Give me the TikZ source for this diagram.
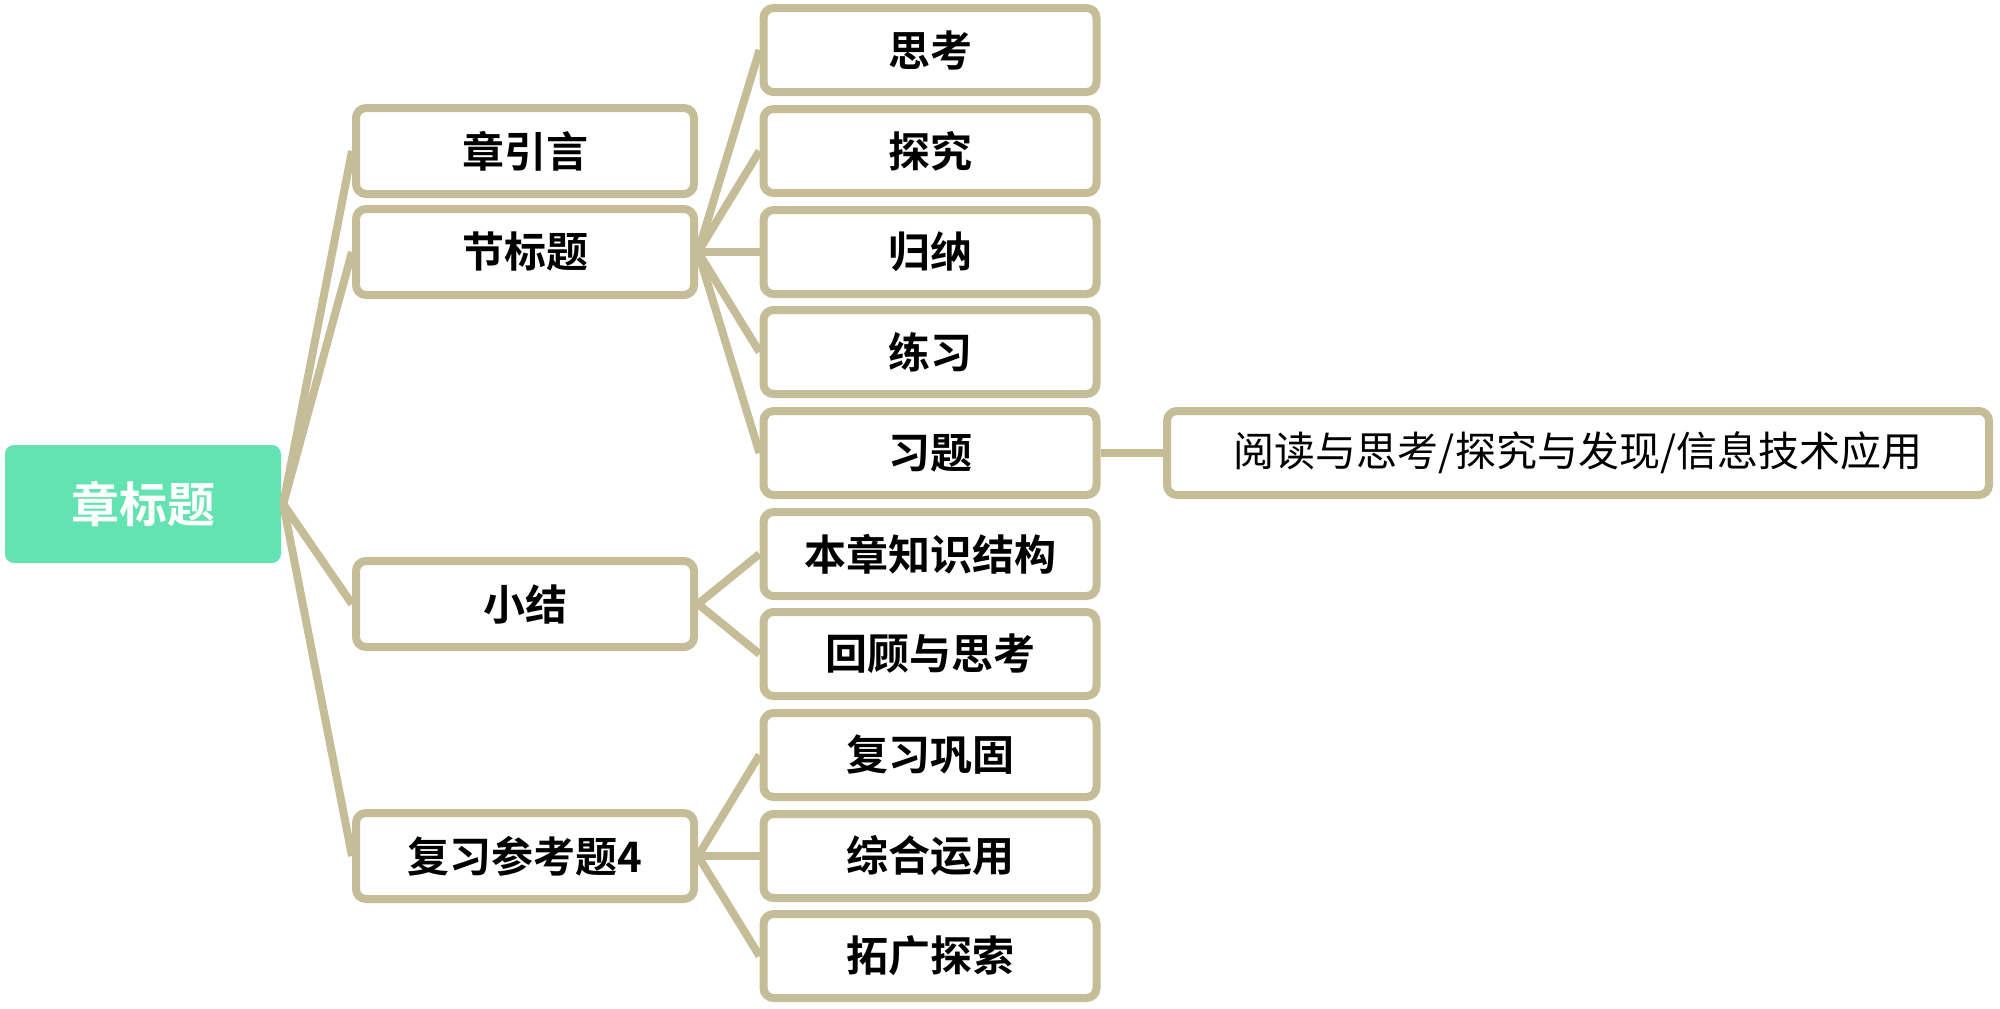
\documentclass[tikz,border=0pt]{standalone}
\usepackage{fontspec}
\newfontfamily\cjk{Noto Sans CJK SC}[BoldFont={* Bold}]
\definecolor{tan}{HTML}{C4BD97}
\definecolor{mint}{HTML}{63E3B1}
\begin{document}
\begin{tikzpicture}[x=1pt,y=-1pt,
  rootbox/.style={fill=mint,rounded corners=9pt,minimum width=276pt,minimum height=118pt,inner sep=0pt,text=white,font=\cjk\bfseries\fontsize{48pt}{54pt}\selectfont},
  lvone/.style={draw=tan,line width=8pt,fill=white,rounded corners=10pt,minimum width=338pt,minimum height=86pt,inner sep=0pt,font=\cjk\bfseries\fontsize{42pt}{48pt}\selectfont},
  lvtwo/.style={draw=tan,line width=8pt,fill=white,rounded corners=10pt,minimum width=333pt,minimum height=84pt,inner sep=0pt,font=\cjk\bfseries\fontsize{42pt}{48pt}\selectfont},
  longbox/.style={draw=tan,line width=8pt,fill=white,rounded corners=10pt,minimum width=822pt,minimum height=84pt,inner sep=0pt,font=\cjk\fontsize{41pt}{48pt}\selectfont},
  conn/.style={draw=tan,line width=8pt}
]
\useasboundingbox (0,0) rectangle (2000,1009);
\node[rootbox] (root) at (143,504) {章标题};
\node[lvone] (a1) at (525,151) {章引言};
\node[lvone] (a2) at (525,252) {节标题};
\node[lvone] (a3) at (525,604) {小结};
\node[lvone] (a4) at (525,856) {复习参考题4};
\node[lvtwo] (b1) at (930,50) {思考};
\node[lvtwo] (b2) at (930,151) {探究};
\node[lvtwo] (b3) at (930,252) {归纳};
\node[lvtwo] (b4) at (930,352) {练习};
\node[lvtwo] (b5) at (930,453) {习题};
\node[lvtwo] (b6) at (930,554) {本章知识结构};
\node[lvtwo] (b7) at (930,654) {回顾与思考};
\node[lvtwo] (b8) at (930,755) {复习巩固};
\node[lvtwo] (b9) at (930,856) {综合运用};
\node[lvtwo] (b10) at (930,956) {拓广探索};
\node[longbox] (c1) at (1578,453) {阅读与思考/探究与发现/信息技术应用};
\foreach \t in {a1,a2,a3,a4} \draw[conn] ([xshift=2pt]root.east) -- (\t.west);
\foreach \t in {b1,b2,b3,b4,b5} \draw[conn] (a2.east) -- (\t.west);
\foreach \t in {b6,b7} \draw[conn] (a3.east) -- (\t.west);
\foreach \t in {b8,b9,b10} \draw[conn] (a4.east) -- (\t.west);
\draw[conn] (b5.east) -- (c1.west);
\end{tikzpicture}
\end{document}
